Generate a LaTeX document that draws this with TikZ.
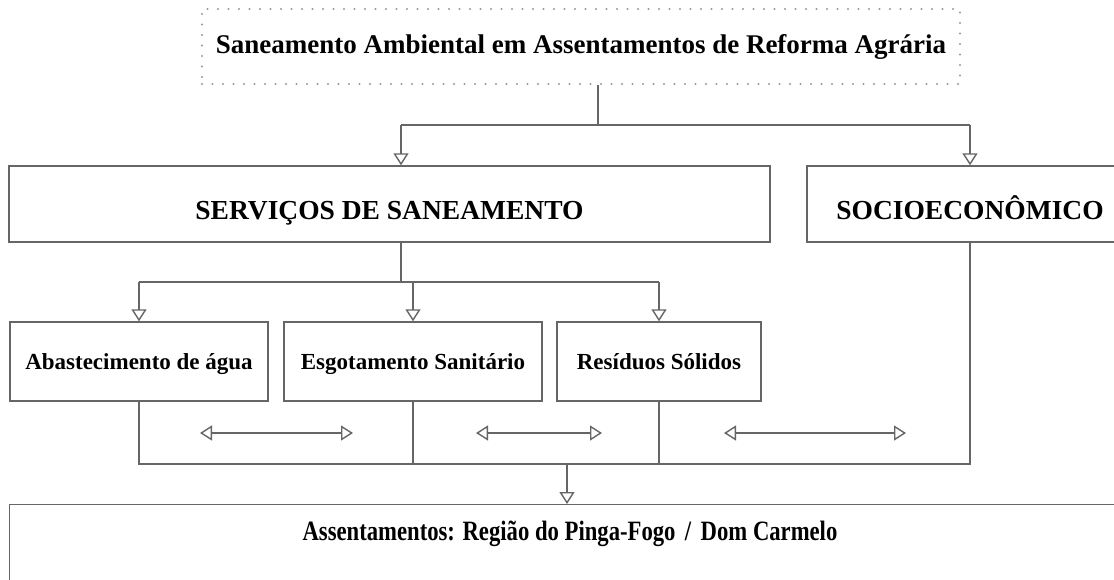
\documentclass[tikz,border=0pt]{standalone}
\usepackage{fontspec}
\setmainfont{Liberation Serif}
\usetikzlibrary{arrows.meta}
\definecolor{linegray}{HTML}{666666}
\definecolor{dotgray}{HTML}{9A9A9A}
\begin{document}
\begin{tikzpicture}[x=1pt,y=-1pt,
  line/.style={draw=linegray, line width=1.4pt},
  box/.style={line, rectangle, inner sep=0pt, font=\bfseries},
  dotbox/.style={draw=dotgray, line width=2.2pt, line cap=round, dash pattern=on 0pt off 10.5pt, rectangle, inner sep=0pt, font=\bfseries},
  arr/.style={line, -{Triangle[open, length=12pt, width=15pt, fill=white]}},
  darr/.style={line, {Triangle[open, length=12pt, width=15pt, fill=white]}-{Triangle[open, length=12pt, width=15pt, fill=white]}},
  big/.style={font=\bfseries\fontsize{27.5}{30}\selectfont, text height=30pt, text depth=0pt},
  mid/.style={font=\bfseries\fontsize{23}{26}\selectfont, text height=16pt, text depth=0pt}]
\clip (0,0) rectangle (1114,579);
\fill[white] (0,0) rectangle (1114,579);

% nodes
\node[dotbox, font=\bfseries\fontsize{27}{30}\selectfont, minimum width=758pt, minimum height=75pt] (title) at (581,46.5) {Saneamento Ambiental em Assentamentos de Reforma Agrária};
\node[box, big, minimum width=761pt, minimum height=76pt] (serv) at (389.5,204) {SERVIÇOS DE SANEAMENTO};
\node[box, big, minimum width=326pt, minimum height=76pt] (socio) at (970,204) {SOCIOECONÔMICO};
\node[box, mid, minimum width=258pt, minimum height=79pt] (abast) at (139,361.5) {Abastecimento de água};
\node[box, mid, minimum width=258pt, minimum height=79pt] (esgot) at (413,361.5) {Esgotamento Sanitário};
\node[box, mid, minimum width=204pt, minimum height=79pt] (resid) at (659,361.5) {Resíduos Sólidos};
\node[box, minimum width=1124pt, minimum height=100pt, anchor=north west] (assent) at (9,504) {};
\node[font=\bfseries\fontsize{28}{30}\selectfont, inner sep=0pt, anchor=base] (assentlabel) at (570,540) {\scalebox{0.81}[1]{Assentamentos: Região do Pinga-Fogo \,/\, Dom Carmelo}};

% junction coordinates
\coordinate (j1) at (598,125);
\coordinate (sx) at (401,125);
\coordinate (b1) at (401,282);
\coordinate (b2) at (0,464);
\coordinate (b3) at (567,464);

% title to level 1
\draw[line] (j1 |- title.south) -- (j1);
\draw[line] (sx) -- (socio.north |- sx);
\draw[arr] (sx) -- (sx |- serv.north);
\draw[arr] (socio.north |- sx) -- (socio.north);

% serv to level 2
\draw[line] (b1 |- serv.south) -- (b1);
\draw[line] (abast.north |- b1) -- (resid.north |- b1);
\draw[arr] (abast.north |- b1) -- (abast.north);
\draw[arr] (esgot.north |- b1) -- (esgot.north);
\draw[arr] (resid.north |- b1) -- (resid.north);

% level 2 to bottom
\draw[line] (abast.south) -- (abast.south |- b2) -- (socio.south |- b2) -- (socio.south);
\draw[line] (esgot.south) -- (esgot.south |- b2);
\draw[line] (resid.south) -- (resid.south |- b2);
\draw[arr] (b3) -- (b3 |- assent.north);

% double arrows
\coordinate (d1a) at (200,433); \coordinate (d1b) at (353,433);
\coordinate (d2a) at (476,433); \coordinate (d2b) at (602,433);
\coordinate (d3a) at (724,433); \coordinate (d3b) at (906,433);
\draw[darr] (d1a) -- (d1b);
\draw[darr] (d2a) -- (d2b);
\draw[darr] (d3a) -- (d3b);
\end{tikzpicture}
\end{document}
